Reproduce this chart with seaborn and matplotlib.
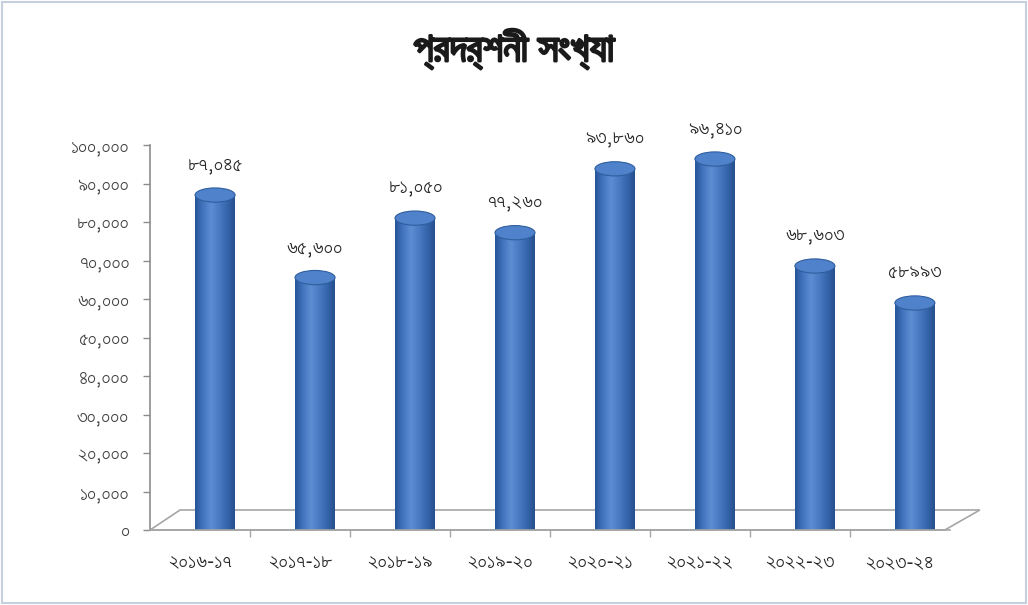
import numpy as np
import pandas as pd
import matplotlib
matplotlib.use("Agg")
import matplotlib.pyplot as plt
import matplotlib.patheffects as pe
import seaborn as sns
from matplotlib.patches import Ellipse, Polygon, Rectangle
from matplotlib.colors import LinearSegmentedColormap

# ---------------- data ----------------
years = ["২০১৬-১৭", "২০১৭-১৮", "২০১৮-১৯", "২০১৯-২০",
         "২০২০-২১", "২০২১-২২", "২০২২-২৩", "২০২৩-২৪"]
values = [87045, 65600, 81050, 77260, 93860, 96410, 68603, 58993]
value_labels = ["৮৭,০৪৫", "৬৫,৬০০", "৮১,০৫০", "৭৭,২৬০",
                "৯৩,৮৬০", "৯৬,৪১০", "৬৮,৬০৩", "৫৮৯৯৩"]
ytick_values = [0, 10000, 20000, 30000, 40000, 50000,
                60000, 70000, 80000, 90000, 100000]
ytick_labels = ["০", "১০,০০০", "২০,০০০", "৩০,০০০", "৪০,০০০", "৫০,০০০",
                "৬০,০০০", "৭০,০০০", "৮০,০০০", "৯০,০০০", "১০০,০০০"]
title = "প্রদর্শনী সংখ্যা"

sns.set_theme(style="white")
plt.rcParams["font.family"] = ["FreeSans", "FreeSerif", "DejaVu Sans"]

fig = plt.figure(figsize=(10.28, 6.05), dpi=100)
ax = fig.add_axes([0.146, 0.124, 0.778, 0.636])

df = pd.DataFrame({"year": years, "value": values})
sns.barplot(data=df, x="year", y="value", color="#3F6FB6", width=0.4,
            saturation=1, ax=ax, zorder=2)

ax.set_xlim(-0.5, 7.5)
ax.set_ylim(0, 100000)

# 3D floor
depth_x, depth_y = 0.3, 5200
floor = Polygon([(-0.5, 0), (-0.5 + depth_x, depth_y), (7.5 + depth_x, depth_y),
                 (7.45, 0)], closed=True, fc="white", ec="#a6a6a6", lw=1.2,
                zorder=1, clip_on=False)
ax.add_patch(floor)

cmap = LinearSegmentedColormap.from_list(
    "cyl", ["#27549a", "#4274bd", "#5d8dd3", "#4a7bc3", "#3566ad", "#264e8c"])
grad = np.linspace(0, 1, 256).reshape(1, -1)
shift = 0.15
ell_h = 3700
for p, v, lab in zip(ax.patches, values, value_labels):
    p.set_x(p.get_x() + shift)
    p.set_edgecolor("none")
    x0, w = p.get_x(), p.get_width()
    cx = x0 + w / 2
    im = ax.imshow(grad, extent=[x0, x0 + w, 0, v], aspect="auto", cmap=cmap,
                   zorder=2.1, interpolation="bicubic")
    im.set_clip_path(p)
    ax.add_patch(Ellipse((cx, 0), w, ell_h, fc="#2c5a9c", ec="none", zorder=1.5))
    ax.add_patch(Ellipse((cx, v), w, ell_h, fc="#4f82ca", ec="#2f5e9f",
                         lw=0.8, zorder=3, clip_on=False))
    ax.text(cx, v + 7800, lab, ha="center", va="center", fontsize=15,
            color="#262626", zorder=4)

ax.set_xlim(-0.5, 7.5)
ax.set_ylim(0, 100000)
ax.set_aspect("auto")

for s in ["top", "right"]:
    ax.spines[s].set_visible(False)
ax.spines["left"].set_color("#8c8c8c")
ax.spines["bottom"].set_color("#a6a6a6")
ax.spines["left"].set_linewidth(1.2)
ax.spines["bottom"].set_linewidth(1.2)

ax.set_yticks(ytick_values)
ax.set_yticklabels(ytick_labels, fontsize=14.5, color="#404040")
ax.tick_params(axis="y", direction="out", length=5, width=1, color="#8c8c8c",
               pad=10, left=True)
ax.set_xticks(range(len(years)))
ax.set_xticklabels(years, fontsize=15, color="#262626")
ax.tick_params(axis="x", length=0, pad=17)
ax.set_xticks(np.arange(0.5, 7.5, 1), minor=True)
ax.tick_params(axis="x", which="minor", direction="out", length=5,
               color="#a6a6a6", bottom=True)
ax.set_xlabel("")
ax.set_ylabel("")
ax.grid(False)

fig.text(0.5, 0.917, title, ha="center", va="center", fontsize=29,
         color="#1a1a1a",
         path_effects=[pe.withStroke(linewidth=1.8, foreground="#1a1a1a")])

fig.patches.append(Rectangle((0.002, 0.003), 0.996, 0.994,
                             transform=fig.transFigure, fill=False,
                             ec="#c5cfdd", lw=1.5))

fig.savefig("out.png", dpi=100)
